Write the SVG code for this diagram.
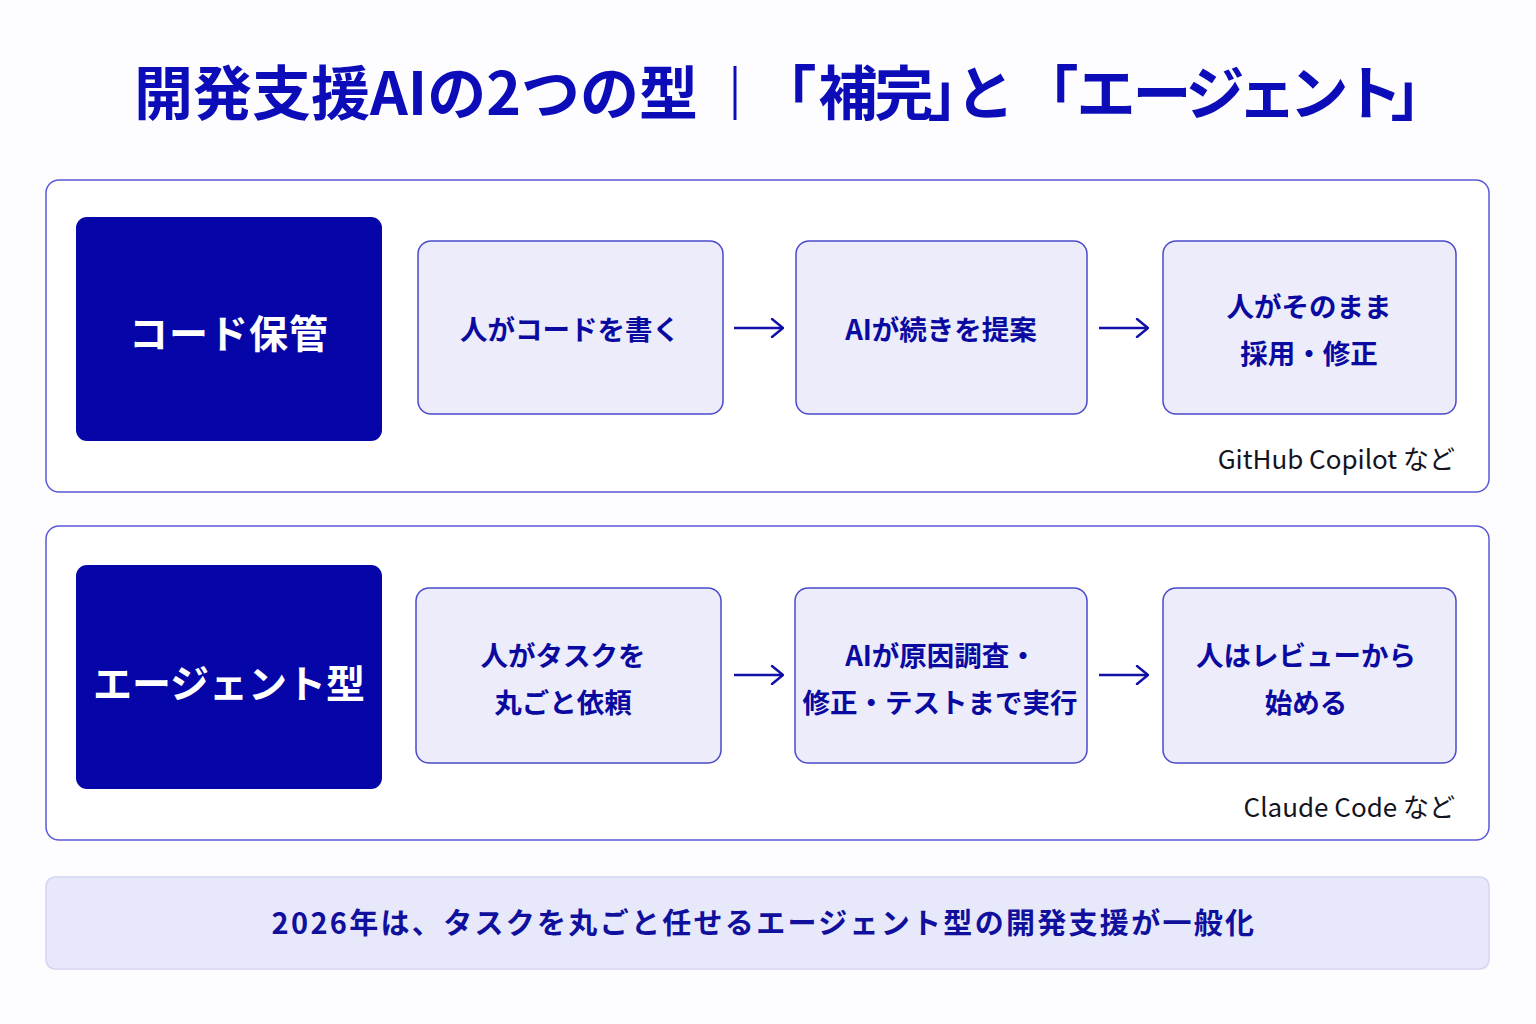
<svg xmlns="http://www.w3.org/2000/svg" width="1536" height="1024" viewBox="0 0 1536 1024">
<defs>
<marker id="ah" viewBox="0 0 14 20" refX="13" refY="10" markerWidth="14" markerHeight="20" markerUnits="userSpaceOnUse" orient="auto">
<path d="M2,1 L13,10 L2,19" fill="none" stroke="#1010a8" stroke-width="2.4" stroke-linecap="round" stroke-linejoin="round"/>
</marker>
</defs>
<style>
.t{font-family:"Noto Sans CJK JP","Noto Sans",sans-serif;}
.title{font-size:59px;font-weight:700;fill:#0c0cb8;}
.panel{fill:#ffffff;stroke:#5a5ad8;stroke-width:1.5;}
.dark{fill:#0505a8;}
.darkt{font-size:39px;font-weight:700;fill:#ffffff;}
.step{fill:#ececfb;stroke:#4a4acc;stroke-width:1.5;}
.stept{font-size:27.5px;font-weight:700;fill:#0a0aa0;}
.note{font-size:26px;font-weight:400;fill:#141420;}
.banner{fill:#e8e8fb;stroke:#d4d4f2;stroke-width:1.5;}
.bannert{font-size:29px;font-weight:700;fill:#10109c;letter-spacing:2.3px;}
.arr{stroke:#1010a8;stroke-width:2.4;fill:none;marker-end:url(#ah);}
</style>
<rect width="1536" height="1024" fill="#fdfdff"/>
<g id="title">
<text class="t title" x="134" y="115">開発支援AIの2つの型</text>
<line x1="735" y1="66" x2="735" y2="120" stroke="#0c0cb8" stroke-width="3"/>
<text class="t title" y="115" text-anchor="middle" x="787 848 904 957 985 1049 1106 1162 1215 1267 1319 1373 1420">「補完」と「エージェント」</text>
</g>

<g id="panel1">
<rect class="panel" x="46" y="180" width="1443" height="312" rx="13"/>
<text class="t note" x="1455" y="469" text-anchor="end">GitHub Copilot など</text>
</g>
<g id="type1">
<rect class="dark" x="76" y="217" width="306" height="224" rx="11"/>
<text class="t darkt" x="229" y="348" text-anchor="middle" letter-spacing="1">コード保管</text>
</g>
<g id="s1a">
<rect class="step" x="418" y="241" width="305" height="173" rx="13"/>
<text class="t stept" x="570" y="340" text-anchor="middle">人がコードを書く</text>
</g>
<g id="s1b">
<rect class="step" x="796" y="241" width="291" height="173" rx="13"/>
<text class="t stept" x="941" y="340" text-anchor="middle">AIが続きを提案</text>
</g>
<g id="s1c">
<rect class="step" x="1163" y="241" width="293" height="173" rx="13"/>
<text class="t stept" x="1309" y="317" text-anchor="middle">人がそのまま</text>
<text class="t stept" x="1309" y="364" text-anchor="middle">採用・修正</text>
</g>

<g id="panel2">
<rect class="panel" x="46" y="526" width="1443" height="314" rx="13"/>
<text class="t note" x="1455" y="817" text-anchor="end">Claude Code など</text>
</g>
<g id="type2">
<rect class="dark" x="76" y="565" width="306" height="224" rx="11"/>
<text class="t darkt" x="229" y="698" text-anchor="middle" font-size="35.5">エージェント型</text>
</g>
<g id="s2a">
<rect class="step" x="416" y="588" width="305" height="175" rx="13"/>
<text class="t stept" x="563" y="666" text-anchor="middle">人がタスクを</text>
<text class="t stept" x="563" y="713" text-anchor="middle">丸ごと依頼</text>
</g>
<g id="s2b">
<rect class="step" x="795" y="588" width="292" height="175" rx="13"/>
<text class="t stept" x="941" y="666" text-anchor="middle">AIが原因調査・</text>
<text class="t stept" x="940" y="713" text-anchor="middle">修正・テストまで実行</text>
</g>
<g id="s2c">
<rect class="step" x="1163" y="588" width="293" height="175" rx="13"/>
<text class="t stept" x="1306" y="666" text-anchor="middle">人はレビューから</text>
<text class="t stept" x="1306" y="713" text-anchor="middle">始める</text>
</g>

<g id="connectors">
<line class="arr" x1="734" y1="328" x2="783" y2="328"/>
<line class="arr" x1="1099" y1="328" x2="1148" y2="328"/>
<line class="arr" x1="734" y1="675" x2="783" y2="675"/>
<line class="arr" x1="1099" y1="675" x2="1148" y2="675"/>
</g>

<g id="summary">
<rect class="banner" x="46" y="877" width="1443" height="92" rx="9"/>
<text class="t bannert" x="764" y="934" text-anchor="middle">2026年は、タスクを丸ごと任せるエージェント型の開発支援が一般化</text>
</g>
</svg>
